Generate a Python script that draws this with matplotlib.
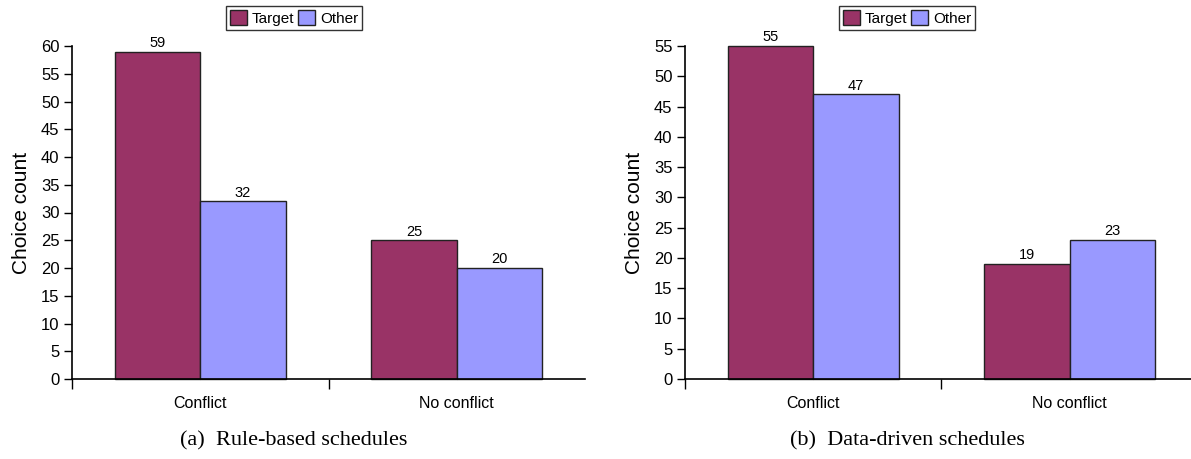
import matplotlib
matplotlib.use("Agg")
from matplotlib import pyplot as plt
from matplotlib.patches import Patch

categories = ["Conflict", "No conflict"]
series_names = ["Target", "Other"]
rule_target = [59, 25]
rule_other = [32, 20]
data_target = [55, 19]
data_other = [47, 23]
captions = ["(a)  Rule-based schedules", "(b)  Data-driven schedules"]
ymax = [60, 55]

c_target = "#993366"
c_other = "#9999ff"

plt.rcParams["font.family"] = ["Liberation Sans", "DejaVu Sans"]

fig = plt.figure(figsize=(11.91, 4.59), dpi=100)
W, H = 1191.0, 459.0

panels = [(72, rule_target, rule_other), (685, data_target, data_other)]
for i, (x0, tvals, ovals) in enumerate(panels):
    # axes: x from -0.5 to 1.5 spans 513 px, y 0 at px 379, ymax at px 46
    ax = fig.add_axes([x0 / W, 1 - 379 / H, 513 / W, 333 / H])
    ax.set_xlim(-0.5, 1.5)
    ax.set_ylim(0, ymax[i])
    xs = list(range(len(categories)))
    bw = 1 / 3.0
    ax.bar([x - bw / 2 for x in xs], tvals, width=bw, color=c_target,
           edgecolor="#222222", linewidth=1, clip_on=False)
    ax.bar([x + bw / 2 for x in xs], ovals, width=bw, color=c_other,
           edgecolor="#222222", linewidth=1, clip_on=False)
    for x, v in zip(xs, tvals):
        ax.text(x - bw / 2, v + 0.3, str(v), ha="center", va="bottom", fontsize=10.5)
    for x, v in zip(xs, ovals):
        ax.text(x + bw / 2, v + 0.3, str(v), ha="center", va="bottom", fontsize=10.5)

    for s in ["top", "right"]:
        ax.spines[s].set_visible(False)
    ax.spines["left"].set_linewidth(1.2)
    ax.spines["bottom"].set_linewidth(1.2)
    ax.spines["left"].set_bounds(0, ymax[i])

    ax.set_yticks(range(0, ymax[i] + 1, 5))
    ax.tick_params(axis="y", length=6, width=1, labelsize=12, pad=3)
    ax.set_xticks(xs)
    ax.set_xticklabels(categories)
    ax.tick_params(axis="x", which="major", length=0, labelsize=11.5, pad=12)
    ax.set_xticks([-0.5, 0.5], minor=True)
    ax.tick_params(axis="x", which="minor", length=7, width=1, direction="out")
    ax.set_ylabel("Choice count", fontsize=15, labelpad=7)

    cx = (x0 + 222) / W
    handles = [Patch(facecolor=c_target, edgecolor="#222222"),
               Patch(facecolor=c_other, edgecolor="#222222")]
    leg = fig.legend(handles, series_names, loc="center", bbox_to_anchor=(cx, 1 - 18 / H),
                     ncol=2, fontsize=11, frameon=True, fancybox=False,
                     handlelength=1.1, handleheight=1.1, handletextpad=0.3,
                     columnspacing=0.3, borderpad=0.25, borderaxespad=0)
    leg.get_frame().set_edgecolor("black")
    leg.get_frame().set_linewidth(1)

    fig.text(cx, 1 - 441 / H, captions[i], ha="center", va="center",
             fontsize=16, family="Liberation Serif")

fig.savefig("out.png", dpi=100)
